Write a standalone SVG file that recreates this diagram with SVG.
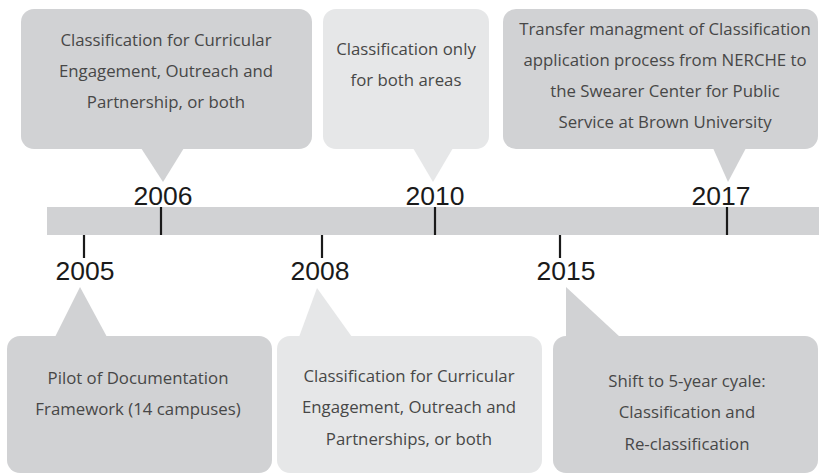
<svg xmlns="http://www.w3.org/2000/svg" width="819" height="474" viewBox="0 0 819 474">
  <style>
    .dark { fill: #d1d2d4; }
    .light { fill: #e6e7e8; }
    .tick { stroke: #1a1a1a; stroke-width: 2.2; fill: none; }
    .year { font-family: "Liberation Sans", Arial, sans-serif; font-size: 26.5px; fill: #1a1a1a; text-anchor: middle; }
    .note { font-family: "Open Sans", "Noto Sans", sans-serif; font-size: 16.8px; fill: #474747; text-anchor: middle; }
  </style>
  <rect width="819" height="474" fill="#ffffff"/>
  <g id="timeline">
    <rect class="dark" x="47" y="207" width="772" height="28"/>
  </g>
  <g id="connectors">
    <line class="tick" x1="84" y1="235" x2="84" y2="258"/>
    <line class="tick" x1="161" y1="207" x2="161" y2="235"/>
    <line class="tick" x1="322" y1="235" x2="322" y2="258"/>
    <line class="tick" x1="435" y1="207" x2="435" y2="235"/>
    <line class="tick" x1="560" y1="235" x2="560" y2="258"/>
    <line class="tick" x1="727" y1="207" x2="727" y2="235"/>
  </g>
  <g id="node-2006">
    <rect class="dark" x="21" y="9" width="291" height="140" rx="13"/>
    <polygon class="dark" points="141,148 184,148 163,182"/>
    <text class="note" x="166" y="46">Classification for Curricular</text>
    <text class="note" x="166" y="77">Engagement, Outreach and</text>
    <text class="note" x="166" y="108">Partnership, or both</text>
    <text class="year" x="163" y="205">2006</text>
  </g>
  <g id="node-2010">
    <rect class="light" x="323" y="9" width="166" height="140" rx="13"/>
    <polygon class="light" points="413,148 453,148 433,182"/>
    <text class="note" x="406" y="55">Classification only</text>
    <text class="note" x="406" y="86">for both areas</text>
    <text class="year" x="435" y="205">2010</text>
  </g>
  <g id="node-2017">
    <rect class="dark" x="503" y="9" width="315" height="140" rx="13"/>
    <polygon class="dark" points="713,148 746,148 728,182"/>
    <text class="note" x="665" y="35">Transfer managment of Classification</text>
    <text class="note" x="665" y="66">application process from NERCHE to</text>
    <text class="note" x="665" y="97">the Swearer Center for Public</text>
    <text class="note" x="665" y="128">Service at Brown University</text>
    <text class="year" x="721" y="205">2017</text>
  </g>
  <g id="node-2005">
    <text class="year" x="85" y="280">2005</text>
    <polygon class="dark" points="80,287 107,337 55,337"/>
    <rect class="dark" x="7" y="336" width="265" height="137" rx="13"/>
    <text class="note" x="138" y="384">Pilot of Documentation</text>
    <text class="note" x="138" y="415">Framework (14 campuses)</text>
  </g>
  <g id="node-2008">
    <text class="year" x="320" y="280">2008</text>
    <polygon class="light" points="317,288 352,337 299,337"/>
    <rect class="light" x="277" y="336" width="265" height="137" rx="13"/>
    <text class="note" x="409" y="382">Classification for Curricular</text>
    <text class="note" x="409" y="413">Engagement, Outreach and</text>
    <text class="note" x="409" y="445">Partnerships, or both</text>
  </g>
  <g id="node-2015">
    <text class="year" x="566" y="280">2015</text>
    <polygon class="dark" points="566,287 620,337 566,337"/>
    <rect class="dark" x="553" y="336" width="265" height="137" rx="13"/>
    <text class="note" x="687" y="387">Shift to 5-year cyale:</text>
    <text class="note" x="687" y="418">Classification and</text>
    <text class="note" x="687" y="450">Re-classification</text>
  </g>
</svg>
